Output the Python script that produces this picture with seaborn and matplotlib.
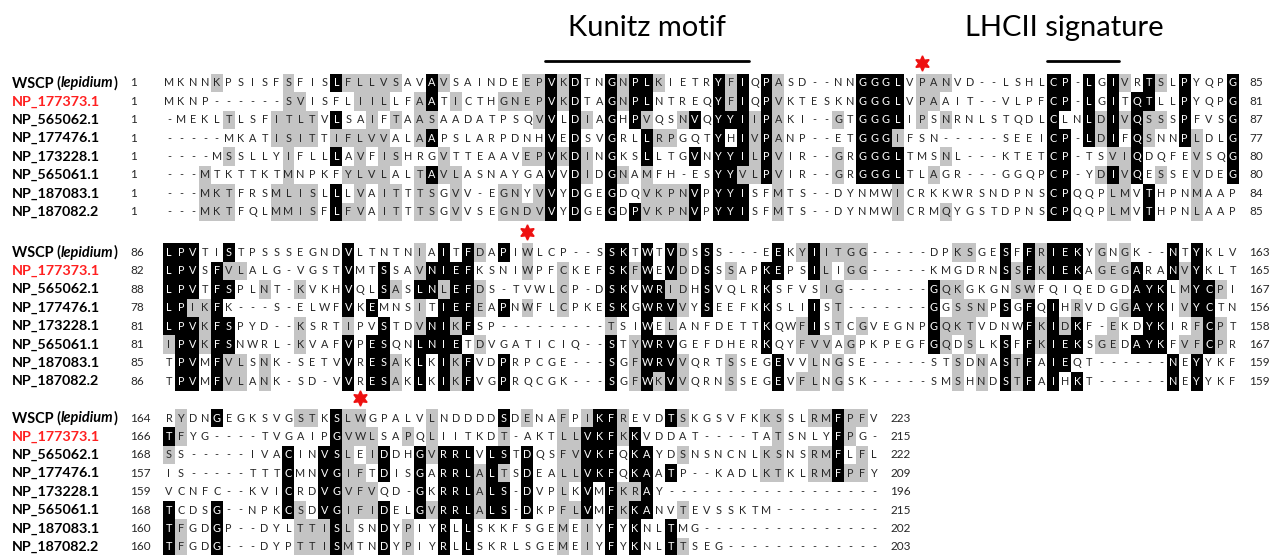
import numpy as np
import matplotlib
matplotlib.use("Agg")
import matplotlib.pyplot as plt
from matplotlib.colors import ListedColormap
import seaborn as sns

# ---------------- data ----------------
NAMES = ["WSCP (lepidium)", "NP_177373.1", "NP_565062.1", "NP_177476.1",
         "NP_173228.1", "NP_565061.1", "NP_187083.1", "NP_187082.2"]
ITALIC_PART = {"WSCP (lepidium)": "lepidium"}
HIGHLIGHT = "NP_177373.1"

BLOCK1 = [
    "MKNNKPSISFSFISLFLLVSAVAVSAINDEEPVKDTNGNPLKIETRYFIQPASD--NNGGGLVPANVD--LSHLCP-LGIVRTSLPYQPG",
    "MKNP------SVISFLIILLFAATICTHGNEPVKDTAGNPLNTREQYFIQPVKTESKNGGGLVPAAIT--VLPFCP-LGITQTLLPYQPG",
    "-MEKLTLSFITLTVLSAIFTAASAADATPSQVVLDIAGHPVQSNVQYYIIPAKI--GTGGGLIPSNRNLSTQDLCLNLDIVQSSSPFVSG",
    "-----MKATISITTIFLVVALAAPSLARPDNHVEDSVGRLLRPGQTYHIVPANP--ETGGGIFSN-----SEEICP-LDIFQSNNPLDLG",
    "----MSSLLYIFLLLAVFISHRGVTTEAAVEPVKDINGKSLLTGVNYYILPVIR--GRGGGLTMSNL---KTETCP-TSVIQDQFEVSQG",
    "---MTKTTKTMNPKFYLVLALTAVLASNAYGAVVDIDGNAMFH-ESYYVLPVIR--GRGGGLTLAGR---GGQPCP-YDIVQESSEVDEG",
    "---MKTFRSMLISLLLVAITTTSGVV-EGNYVVYDGEGDQVKPNVPYYISFMTS--DYNMWICRKKWRSNDPNSCPQQPLMVTHPNMAAP",
    "---MKTFQLMMISFLFVAITTTSGVVSEGNDVVYDGEGDPVKPNVPYYISFMTS--DYNMWICRMQYGSTDPNSCPQQPLMVTHPNLAAP",
]
BLOCK2 = [
    "LPVTISTPSSSEGNDVLTNTNIAITFDAPIWLCP--SSKTWTVDSSS---EEKYIITGG-----DPKSGESFFRIEKYGNGK--NTYKLV",
    "LPVSFVLALG-VGSTVMTSSAVNIEFKSNIWPFCKEFSKFWEVDDSSSAPKEPSILIGG-----KMGDRNSSFKIEKAGEGARANVYKLT",
    "LPVTFSPLNT-KVKHVQLSASLNLEFDS-TVWLCP-DSKVWRIDHSVQLRKSFVSIG-------GQKGKGNSWFQIQEDGDAYKLMYCPI",
    "LPIKFK---S-ELWFVKEMNSITIEFEAPNWFLCPKESKGWRVVYSEEFKKSLIIST-------GGSSNPSGFQIHRVDGGAYKIVYCTN",
    "LPVKFSPYD--KSRTIPVSTDVNIKFSP---------TSIWELANFDETTKQWFISTCGVEGNPGQKTVDNWFKIDKF-EKDYKIRFCPT",
    "IPVKFSNWRL-KVAFVPESQNLNIETDVGATICIQ--STYWRVGEFDHERKQYFVVAGPKPEGFGQDSLKSFFKIEKSGEDAYKFVFCPR",
    "TPVMFVLSNK-SETVVRESAKLKIKFVDPRPCGE---SGFWRVVQRTSSEGEVVLNGSE-----STSDNASTFAIEQT------NEYYKF",
    "TPVMFVLANK-SD-VVRESAKLKIKFVGPRQCGK---SGFWKVVQRNSSEGEVFLNGSK-----SMSHNDSTFAIHKT------NEYYKF",
]
BLOCK3 = [
    "RYDNGEGKSVGSTKSLWGPALVLNDDDDSDENAFPIKFREVDTSKGSVFKKSSLRMFPFV",
    "TFYG----TVGAIPGVWLSAPQLIITKDT-AKTLLVKFKKVDDAT----TATSNLYFPG-",
    "SS-----IVACINVSLEIDDHGVRRLVLSTDQSFVVKFQKAYDSNSNCNLKSNSRMFLFL",
    "IS-----TTTCMNVGIFTDISGARRLALTSDEALLVKFQKAATP--KADLKTKLRMFPFY",
    "VCNFC--KVICRDVGVFVQD-GKRRLALS-DVPLKVMFKRAY------------------",
    "TCDSG--NPKCSDVGIFIDELGVRRLALS-DKPFLVMFKKANVTEVSSKTM---------",
    "TFGDGP--DYLTTISLSNDYPIYRLLSKKFSGEMEIYFYKNLTMG---------------",
    "TFGDG---DYPTTISMTNDYPIYRLLSKRLSGEMEIYFYKNLTTSEG-------------",
]
START1 = [1, 1, 1, 1, 1, 1, 1, 1]
END1 = [85, 81, 87, 77, 80, 80, 84, 85]
START2 = [86, 82, 88, 78, 81, 81, 85, 86]
END2 = [163, 165, 167, 156, 158, 167, 159, 159]
START3 = [164, 166, 168, 157, 159, 168, 160, 160]
END3 = [223, 215, 222, 209, 196, 215, 202, 203]
STAR_COLS = [64, 31, 17]          # 1-based alignment column marked with a red star
MOTIFS = [("Kunitz motif", 33, 49), ("LHCII signature", 75, 80)]  # block-1 columns

SIM_GROUPS = ["FYW", "ILVM", "KRH", "DE", "ST", "NQ"]

# ---------------- layout ----------------
W, H = 1273, 555
CELL_W = 11.95
ROW_H = 18.4
X0 = 163.0
BLOCK_TOPS = [73.8, 243.3, 408.8]
LABEL_X = 12
NUM_X = 130
LABEL_PX = {"WSCP (lepidium)": 106}   # rendered label widths, pixels
DEFAULT_LABEL_PX = 88

sns.set_theme(style="white")
plt.rcParams['font.family'] = ['Lato', 'DejaVu Sans']

fig = plt.figure(figsize=(W / 100, H / 100), dpi=100)
fig.patch.set_facecolor("white")
renderer = fig.canvas.get_renderer()


def grp(c):
    for g in SIM_GROUPS:
        if c in g:
            return g
    return c


def shade(seqs):
    n, m = len(seqs), len(seqs[0])
    out = np.zeros((n, m))
    for j in range(m):
        col = [s[j] for s in seqs]
        res = [c for c in col if c != '-']
        cnt = {c: res.count(c) for c in set(res)}
        gcnt = {}
        for c in res:
            gcnt[grp(c)] = gcnt.get(grp(c), 0) + 1
        cons = {c for c, k in cnt.items() if k >= 4}
        cons_g = {grp(c) for c in cons}
        for i, c in enumerate(col):
            if c == '-':
                continue
            g = grp(c)
            if c in cons:
                out[i, j] = 2
            elif len(g) > 1 and (g in cons_g or gcnt[g] >= 4):
                out[i, j] = 1
            elif cnt[c] >= 3:
                out[i, j] = 1
    return out


def label_parts(name):
    if name in ITALIC_PART:
        it = ITALIC_PART[name]
        pre, post = name.split(it)
        return [(pre, "normal"), (it, "italic"), (post, "normal")]
    return [(name, "normal")]


def draw_label(name, yc, color, size):
    x = LABEL_X / W
    for part, style in label_parts(name):
        t = fig.text(x, yc, part, fontsize=size, fontweight="bold",
                     fontstyle=style, color=color, va="center", ha="left")
        x = t.get_window_extent(renderer).x1 / W
    return x * W - LABEL_X


# fit label font sizes to the reference widths
LABEL_SIZE = {}
for name in NAMES:
    probe = fig.add_axes([0, 0, 0.01, 0.01])
    probe.set_visible(False)
    texts_before = len(fig.texts)
    w10 = draw_label(name, -1, "black", 10)
    for t in fig.texts[texts_before:]:
        t.remove()
    fig.delaxes(probe)
    target = LABEL_PX.get(name, DEFAULT_LABEL_PX)
    LABEL_SIZE[name] = 10 * target / w10

cmap = ListedColormap(["white", "#c4c4c4", "black"])
blocks = [(BLOCK1, START1, END1), (BLOCK2, START2, END2), (BLOCK3, START3, END3)]

for b, (seqs, starts, ends) in enumerate(blocks):
    top = BLOCK_TOPS[b]
    ncol = len(seqs[0])
    nrow = len(seqs)
    ax = fig.add_axes([X0 / W, 1 - (top + nrow * ROW_H) / H,
                       ncol * CELL_W / W, nrow * ROW_H / H])
    letters = np.array([list(s) for s in seqs])
    sns.heatmap(shade(seqs), ax=ax, cmap=cmap, vmin=0, vmax=2, cbar=False,
                annot=letters, fmt="", xticklabels=False, yticklabels=False,
                annot_kws=dict(fontsize=7.8, fontfamily="Lato"))
    ax.set_xlabel("")
    ax.set_ylabel("")
    ax.plot(STAR_COLS[b] - 0.5, -0.6, marker=(6, 1, 0), color="#ee1111",
            markersize=11, clip_on=False)
    end_x = X0 + ncol * CELL_W + 10.5
    for i, name in enumerate(NAMES):
        yc = 1 - (top + (i + 0.5) * ROW_H) / H
        color = "#ff2020" if name == HIGHLIGHT else "black"
        draw_label(name, yc, color, LABEL_SIZE[name])
        fig.text(NUM_X / W, yc, str(starts[i]), fontsize=8.5, va="center", ha="left")
        fig.text(end_x / W, yc, str(ends[i]), fontsize=8.5, va="center", ha="left")

    if b == 0:
        for label, c0, c1 in MOTIFS:
            ax.plot([c0 - 1, c1], [-0.7, -0.7], color="black", lw=2, clip_on=False)
        fig.text(647 / W, 1 - 28 / H, MOTIFS[0][0], fontsize=21,
                 ha="center", va="center", color="black")
        fig.text(1064 / W, 1 - 28 / H, MOTIFS[1][0], fontsize=21,
                 ha="center", va="center", color="black")

fig.savefig("out.png", dpi=100, facecolor="white")
